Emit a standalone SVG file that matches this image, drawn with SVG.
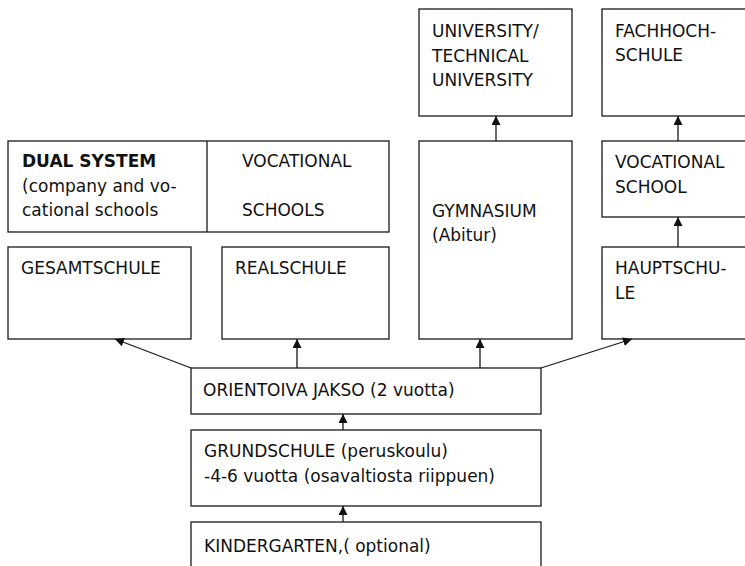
<svg xmlns="http://www.w3.org/2000/svg" width="745" height="566" viewBox="0 0 745 566">
<defs>
<style>
.box{fill:#fff;stroke:#1a1a1a;stroke-width:1.3}
.t{font-family:"DejaVu Sans","Liberation Sans",sans-serif;font-size:17px;fill:#111}
.b{font-weight:bold}
.c{fill:none;stroke:#1a1a1a;stroke-width:1.3}
</style>
<marker id="ah" viewBox="0 0 10 10" refX="10" refY="5" markerWidth="9" markerHeight="9" markerUnits="userSpaceOnUse" orient="auto">
<path d="M0,0 L10,5 L0,10 Z" fill="#111"/>
</marker>
</defs>
<rect width="745" height="566" fill="#fff"/>
<g id="university"><rect class="box" x="419" y="9" width="153" height="107"/>
<text class="t" x="432" y="37">UNIVERSITY/</text><text class="t" x="432" y="62">TECHNICAL</text><text class="t" x="432" y="86">UNIVERSITY</text></g>
<g id="fachhochschule"><rect class="box" x="602" y="9" width="160" height="107"/>
<text class="t" x="615" y="37">FACHHOCH-</text><text class="t" x="615" y="61">SCHULE</text></g>
<g id="dualsystem"><rect class="box" x="8" y="141" width="381" height="91"/><line class="c" x1="207" y1="141" x2="207" y2="232"/>
<text class="t b" x="22" y="167">DUAL SYSTEM</text><text class="t" x="22" y="192">(company and vo-</text><text class="t" x="22" y="216">cational schools</text>
<text class="t" x="242" y="167">VOCATIONAL</text><text class="t" x="242" y="216">SCHOOLS</text></g>
<g id="gymnasium"><rect class="box" x="419" y="141" width="153" height="198"/>
<text class="t" x="432" y="217">GYMNASIUM</text><text class="t" x="432" y="241">(Abitur)</text></g>
<g id="vocationalschool"><rect class="box" x="602" y="141" width="160" height="76"/>
<text class="t" x="615" y="168">VOCATIONAL</text><text class="t" x="615" y="193">SCHOOL</text></g>
<g id="gesamtschule"><rect class="box" x="8" y="247" width="183" height="92"/><text class="t" x="21" y="274">GESAMTSCHULE</text></g>
<g id="realschule"><rect class="box" x="222" y="247" width="167" height="92"/><text class="t" x="235" y="274">REALSCHULE</text></g>
<g id="hauptschule"><rect class="box" x="602" y="247" width="160" height="92"/>
<text class="t" x="615" y="274">HAUPTSCHU-</text><text class="t" x="615" y="299">LE</text></g>
<g id="orientoiva"><rect class="box" x="191" y="368" width="350" height="46"/><text class="t" x="203" y="396">ORIENTOIVA JAKSO (2 vuotta)</text></g>
<g id="grundschule"><rect class="box" x="191" y="430" width="350" height="76"/>
<text class="t" x="204" y="457">GRUNDSCHULE (peruskoulu)</text><text class="t" x="204" y="482">-4-6 vuotta (osavaltiosta riippuen)</text></g>
<g id="kindergarten"><rect class="box" x="191" y="522" width="350" height="60"/><text class="t" x="204" y="552">KINDERGARTEN,( optional)</text></g>
<g id="connectors">
<line class="c" x1="496" y1="141" x2="496" y2="116" marker-end="url(#ah)"/>
<line class="c" x1="678" y1="141" x2="678" y2="116" marker-end="url(#ah)"/>
<line class="c" x1="678" y1="247" x2="678" y2="217" marker-end="url(#ah)"/>
<line class="c" x1="191" y1="368" x2="115" y2="339" marker-end="url(#ah)"/>
<line class="c" x1="297" y1="368" x2="297" y2="339" marker-end="url(#ah)"/>
<line class="c" x1="480" y1="368" x2="480" y2="339" marker-end="url(#ah)"/>
<line class="c" x1="541" y1="368" x2="632" y2="339" marker-end="url(#ah)"/>
<line class="c" x1="343" y1="430" x2="343" y2="414" marker-end="url(#ah)"/>
<line class="c" x1="343" y1="522" x2="343" y2="506" marker-end="url(#ah)"/>
</g>
</svg>
